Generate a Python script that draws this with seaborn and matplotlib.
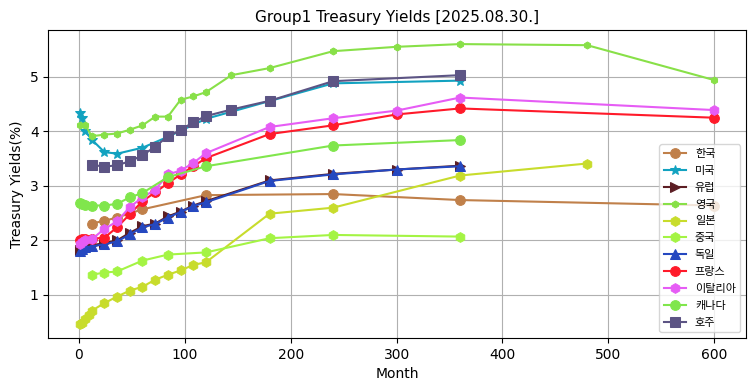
import matplotlib
matplotlib.use("Agg")
import matplotlib.pyplot as plt
import seaborn as sns
import pandas as pd

# maturities (months) and yields (%) per country
kr_m = [12, 24, 36, 60, 120, 240, 360, 600]
kr_y = [2.31, 2.36, 2.42, 2.57, 2.83, 2.85, 2.74, 2.64]

us_m = [1, 3, 6, 12, 24, 36, 60, 84, 120, 240, 360]
us_y = [4.33, 4.24, 4.00, 3.85, 3.62, 3.59, 3.70, 3.90, 4.23, 4.88, 4.93]

eu_m = [1, 3, 6, 12, 24, 36, 48, 60, 72, 84, 96, 108, 120, 180, 240, 300, 360]
eu_y = [1.83, 1.86, 1.89, 1.91, 1.95, 2.00, 2.14, 2.26, 2.31, 2.44, 2.53, 2.64, 2.72,
        3.10, 3.22, 3.30, 3.37]

uk_m = [1, 6, 12, 24, 36, 48, 60, 72, 84, 96, 108, 120, 144, 180, 240, 300, 360, 480, 600]
uk_y = [4.11, 4.12, 3.91, 3.94, 3.96, 4.03, 4.11, 4.27, 4.27, 4.58, 4.64, 4.72, 5.03,
        5.16, 5.47, 5.55, 5.60, 5.58, 4.94]

jp_m = [1, 3, 6, 9, 12, 24, 36, 48, 60, 72, 84, 96, 108, 120, 180, 240, 360, 480]
jp_y = [0.47, 0.49, 0.56, 0.64, 0.71, 0.85, 0.97, 1.08, 1.15, 1.28, 1.37, 1.45, 1.55,
        1.60, 2.49, 2.60, 3.19, 3.41]

cn_m = [12, 24, 36, 60, 84, 120, 180, 240, 360]
cn_y = [1.37, 1.41, 1.43, 1.63, 1.74, 1.78, 2.04, 2.10, 2.07]

de_m = [1, 3, 6, 12, 24, 36, 48, 60, 72, 84, 96, 108, 120, 180, 240, 300, 360]
de_y = [1.80, 1.84, 1.87, 1.89, 1.93, 1.98, 2.11, 2.24, 2.30, 2.42, 2.52, 2.63, 2.70,
        3.09, 3.21, 3.30, 3.36]

fr_m = [1, 3, 6, 12, 24, 36, 48, 60, 72, 84, 96, 108, 120, 180, 240, 300, 360, 600]
fr_y = [2.01, 2.02, 2.02, 2.03, 2.05, 2.24, 2.48, 2.72, 2.88, 3.05, 3.21, 3.36, 3.51,
        3.95, 4.11, 4.31, 4.42, 4.25]

it_m = [1, 3, 6, 12, 24, 36, 48, 60, 72, 84, 96, 108, 120, 180, 240, 300, 360, 600]
it_y = [1.94, 1.97, 2.00, 2.02, 2.21, 2.35, 2.61, 2.79, 2.93, 3.21, 3.28, 3.42, 3.60,
        4.08, 4.24, 4.38, 4.62, 4.39]

ca_m = [1, 3, 6, 12, 24, 36, 48, 60, 84, 120, 240, 360]
ca_y = [2.69, 2.66, 2.65, 2.64, 2.64, 2.67, 2.79, 2.87, 3.16, 3.36, 3.74, 3.84]

au_m = [12, 24, 36, 48, 60, 72, 84, 96, 108, 120, 144, 180, 240, 360]
au_y = [3.39, 3.35, 3.38, 3.45, 3.56, 3.72, 3.91, 4.02, 4.17, 4.28, 4.40, 4.56, 4.92, 5.03]

series = [
    ("한국", kr_m, kr_y, "o", "#c0804a", 7),
    ("미국", us_m, us_y, "*", "#12a2c0", 7),
    ("유럽", eu_m, eu_y, ">", "#5c1e24", 7),
    ("영국", uk_m, uk_y, "h", "#88e048", 5),
    ("일본", jp_m, jp_y, "h", "#c8dc2c", 7),
    ("중국", cn_m, cn_y, "h", "#a4f444", 7),
    ("독일", de_m, de_y, "^", "#2548c0", 7),
    ("프랑스", fr_m, fr_y, "o", "#ff1a2a", 7),
    ("이탈리아", it_m, it_y, "h", "#e65cf5", 7),
    ("캐나다", ca_m, ca_y, "o", "#80e64c", 7),
    ("호주", au_m, au_y, "s", "#5c5484", 7),
]

plt.rcParams["font.family"] = ["DejaVu Sans", "Noto Sans CJK KR"]

fig, ax = plt.subplots(figsize=(7.55, 3.91), dpi=100)
for name, m, y, mk, col, ms in series:
    df = pd.DataFrame({"Month": m, "Yield": y})
    sns.lineplot(data=df, x="Month", y="Yield", marker=mk, color=col,
                 markersize=ms, markeredgecolor=col, linewidth=1.5,
                 label=name, ax=ax)

ax.grid(True, color="#b0b0b0")
ax.set_axisbelow(True)
ax.set_title("Group1 Treasury Yields [2025.08.30.]", fontsize=11)
ax.set_xlabel("Month", fontsize=10)
ax.set_ylabel("Treasury Yields(%)", fontsize=10)
ax.legend(loc="lower right", fontsize=8, labelspacing=0.62)

fig.subplots_adjust(left=0.064, right=0.988, top=0.923, bottom=0.136)
fig.savefig("out.png", dpi=100)
